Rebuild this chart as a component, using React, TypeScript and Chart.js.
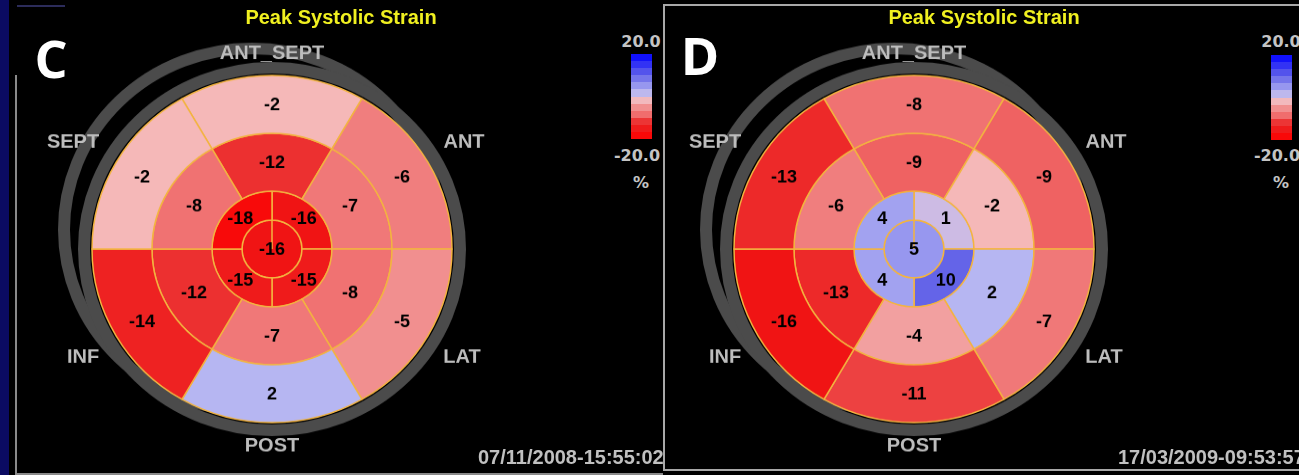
import React, { useEffect, useRef } from 'react';
import { Chart, registerables } from 'chart.js';

Chart.register(...registerables);

// Wall names around the bullseye, clockwise from the top
const WALLS = ['ANT_SEPT', 'ANT', 'LAT', 'POST', 'INF', 'SEPT'];

// Panel C — basal / mid rings clockwise from top, apical clockwise from top-right
const C_BASAL = [-2, -6, -5, 2, -14, -2];
const C_MID = [-12, -7, -8, -7, -12, -8];
const C_APICAL = [-16, -15, -15, -18];
const C_APEX = [-16];

// Panel D
const D_BASAL = [-8, -9, -7, -11, -16, -13];
const D_MID = [-9, -2, 2, -4, -13, -6];
const D_APICAL = [1, 10, 4, 4];
const D_APEX = [5];

const TITLE = 'Peak Systolic Strain';
const PANEL_LETTERS = ['C', 'D'];
const TIMESTAMPS = ['07/11/2008-15:55:02', '17/03/2009-09:53:57'];
const SCALE_TICKS = ['20.0', '-20.0'];
const SCALE_UNIT = '%';

// Colour map (strain % -> colour)
const COLOR_STOP_VALUES = [-20, -16, -12, -8, -6, -4, -2, 0, 2, 4, 6, 10, 20];
const COLOR_STOP_COLORS = ['#ff0000', '#f01414', '#ec3030', '#f07272', '#f07e7e', '#f2a0a0', '#f5b8b8', '#e4c0d6', '#b6b6f2', '#a2a2f0', '#8c8cee', '#6464e8', '#0000ff'];
const COLORBAR_VALUES = [18.3, 15, 11.7, 8.3, 5, 1.7, -1.7, -5, -8.3, -11.7, -15, -18.3];

const SY = 0.966; // vertical stretch of the picture
const CW = 560;
const R = 180;
const LINE_COLOR = '#f3b440';
const RING_COLOR = '#4b4b4b';
const LABEL_COLOR = '#bdbdbd';

function hexToRgb(h: string) {
  const n = parseInt(h.slice(1), 16);
  return [(n >> 16) & 255, (n >> 8) & 255, n & 255];
}
function colorFor(v: number) {
  const vs = COLOR_STOP_VALUES;
  if (v <= vs[0]) return COLOR_STOP_COLORS[0];
  if (v >= vs[vs.length - 1]) return COLOR_STOP_COLORS[vs.length - 1];
  for (let i = 0; i < vs.length - 1; i++) {
    if (v >= vs[i] && v <= vs[i + 1]) {
      const t = (v - vs[i]) / (vs[i + 1] - vs[i]);
      const a = hexToRgb(COLOR_STOP_COLORS[i]);
      const b = hexToRgb(COLOR_STOP_COLORS[i + 1]);
      const c = a.map((x, k) => Math.round(x + (b[k] - x) * t));
      return `rgb(${c[0]},${c[1]},${c[2]})`;
    }
  }
  return '#000';
}

// wall label offsets from centre (canvas units)
const WALL_OFFSETS: Record<string, [number, number]> = {
  ANT_SEPT: [0, -203],
  ANT: [192, -111],
  LAT: [190, 112],
  POST: [0, 204],
  INF: [-189, 112],
  SEPT: [-199, -111],
};

const bullseyePlugin = {
  id: 'bullseyeDeco',
  beforeDatasetsDraw(chart: any) {
    const el = chart.getDatasetMeta(0).data[0];
    if (!el) return;
    const { x, y } = el;
    const ctx = chart.ctx;
    ctx.save();
    ctx.strokeStyle = RING_COLOR;
    ctx.lineWidth = 12;
    ctx.beginPath();
    ctx.arc(x - 20, y - 20, 188, 0, Math.PI * 2);
    ctx.stroke();
    ctx.beginPath();
    ctx.arc(x, y, 188, 0, Math.PI * 2);
    ctx.stroke();
    ctx.restore();
  },
  afterDatasetsDraw(chart: any) {
    const ctx = chart.ctx;
    ctx.save();
    ctx.textAlign = 'center';
    ctx.textBaseline = 'middle';
    ctx.fillStyle = '#000';
    ctx.font = 'bold 18px "Liberation Sans", Arial, sans-serif';
    chart.data.datasets.forEach((ds: any, i: number) => {
      const meta = chart.getDatasetMeta(i);
      meta.data.forEach((el: any, j: number) => {
        const p = meta.data.length === 1 ? { x: el.x, y: el.y } : el.getCenterPoint();
        ctx.fillText(String(ds.strain[j]), p.x, p.y + 1);
      });
    });
    const c = chart.getDatasetMeta(0).data[0];
    ctx.fillStyle = LABEL_COLOR;
    ctx.font = 'bold 20px "Liberation Sans", Arial, sans-serif';
    WALLS.forEach((w) => {
      const o = WALL_OFFSETS[w];
      ctx.fillText(w, c.x + o[0], c.y + o[1]);
    });
    ctx.restore();
  },
};

function Bullseye(props: { basal: number[]; mid: number[]; apical: number[]; apex: number[]; left: number; top: number }) {
  const ref = useRef<HTMLCanvasElement | null>(null);
  useEffect(() => {
    const ring = (vals: number[], weight: number, rotation: number) => ({
      data: vals.map(() => 1),
      strain: vals,
      backgroundColor: vals.map(colorFor),
      borderColor: LINE_COLOR,
      borderWidth: 1.5,
      weight,
      rotation,
      radius: R,
    });
    const chart = new Chart(ref.current as HTMLCanvasElement, {
      type: 'doughnut',
      data: {
        labels: WALLS,
        datasets: [
          ring(props.basal, 2, -30),
          ring(props.mid, 2, -30),
          ring(props.apical, 1, 0),
          ring(props.apex, 1, 0),
        ] as any,
      },
      options: {
        responsive: false,
        animation: false,
        cutout: 0,
        radius: R,
        events: [],
        layout: { padding: 0 },
        plugins: { legend: { display: false }, tooltip: { enabled: false } },
      } as any,
      plugins: [bullseyePlugin],
    });
    return () => chart.destroy();
  }, []);
  return (
    <canvas
      ref={ref}
      width={CW}
      height={CW}
      style={{ position: 'absolute', left: props.left, top: props.top, width: CW, height: CW * SY }}
    />
  );
}

const txt = (s: React.CSSProperties): React.CSSProperties => ({
  position: 'absolute',
  whiteSpace: 'nowrap',
  lineHeight: 1,
  ...s,
});

function ColorBar({ left, top, textCx }: { left: number; top: number; textCx: number }) {
  const font = 'bold 16px "DejaVu Sans", sans-serif';
  return (
    <>
      <div style={txt({ left: textCx, top: 41, transform: 'translate(-50%,-50%)', color: '#c4c4c4', font })}>{SCALE_TICKS[0]}</div>
      <div style={{ position: 'absolute', left, top, width: 21, display: 'flex', flexDirection: 'column' }}>
        {COLORBAR_VALUES.map((v, i) => (
          <div key={i} style={{ height: 7.1, background: colorFor(v) }} />
        ))}
      </div>
      <div style={txt({ left: textCx - 4, top: 155, transform: 'translate(-50%,-50%)', color: '#c4c4c4', font })}>{SCALE_TICKS[1]}</div>
      <div style={txt({ left: textCx, top: 182, transform: 'translate(-50%,-50%)', color: '#c4c4c4', font })}>{SCALE_UNIT}</div>
    </>
  );
}

export default function App() {
  const cx = [272, 914];
  const cy = 249;
  const pL = [9, 663];
  const canvasTop = cy - (CW / 2) * SY;
  const titleFont = 'bold 20px "Liberation Sans", Arial, sans-serif';
  const tsFont = 'bold 20px "Liberation Sans", Arial, sans-serif';
  const letterFont = 'bold 52px "Open Sans", sans-serif';
  return (
    <div style={{ position: 'fixed', left: 0, top: 0, width: 1299, height: 475, background: '#0b0b62', overflow: 'hidden' }}>
      {/* Panel C */}
      <div style={{ position: 'absolute', left: pL[0], top: 0, width: 663 - pL[0], height: 475, background: '#000', overflow: 'hidden' }}>
        <div style={{ position: 'absolute', left: 17 - pL[0], top: 5, width: 48, height: 2, background: '#2c2c5a' }} />
        <div style={{ position: 'absolute', left: 15 - pL[0], top: 75, width: 2, height: 400, background: '#8a8a8a' }} />
        <div style={{ position: 'absolute', left: 15 - pL[0], top: 473, width: 700, height: 2, background: '#8a8a8a' }} />
        <Bullseye basal={C_BASAL} mid={C_MID} apical={C_APICAL} apex={C_APEX} left={cx[0] - CW / 2 - pL[0]} top={canvasTop} />
        <div style={txt({ left: 341 - pL[0], top: 17, transform: 'translate(-50%,-50%)', color: '#f0f020', font: titleFont })}>{TITLE}</div>
        <div style={txt({ left: 51 - pL[0], top: 57, transform: 'translate(-50%,-50%)', color: '#fff', font: letterFont })}>{PANEL_LETTERS[0]}</div>
        <ColorBar left={631 - pL[0]} top={54} textCx={641 - pL[0]} />
        <div style={txt({ left: 478 - pL[0], top: 457, transform: 'translate(0,-50%)', color: '#c0c0c0', font: tsFont })}>{TIMESTAMPS[0]}</div>
      </div>
      {/* Panel D */}
      <div style={{ position: 'absolute', left: pL[1], top: 0, width: 1299 - pL[1], height: 475, background: '#000', overflow: 'hidden' }}>
        <div style={{ position: 'absolute', left: 0, top: 4, width: 700, height: 467, boxSizing: 'border-box', border: '2px solid #a8a8a8' }} />
        <Bullseye basal={D_BASAL} mid={D_MID} apical={D_APICAL} apex={D_APEX} left={cx[1] - CW / 2 - pL[1]} top={canvasTop} />
        <div style={txt({ left: 984 - pL[1], top: 17, transform: 'translate(-50%,-50%)', color: '#f0f020', font: titleFont })}>{TITLE}</div>
        <div style={txt({ left: 700 - pL[1], top: 54, transform: 'translate(-50%,-50%)', color: '#fff', font: letterFont })}>{PANEL_LETTERS[1]}</div>
        <ColorBar left={1271 - pL[1]} top={55} textCx={1281 - pL[1]} />
        <div style={txt({ left: 1118 - pL[1], top: 457, transform: 'translate(0,-50%)', color: '#c0c0c0', font: tsFont })}>{TIMESTAMPS[1]}</div>
      </div>
    </div>
  );
}
